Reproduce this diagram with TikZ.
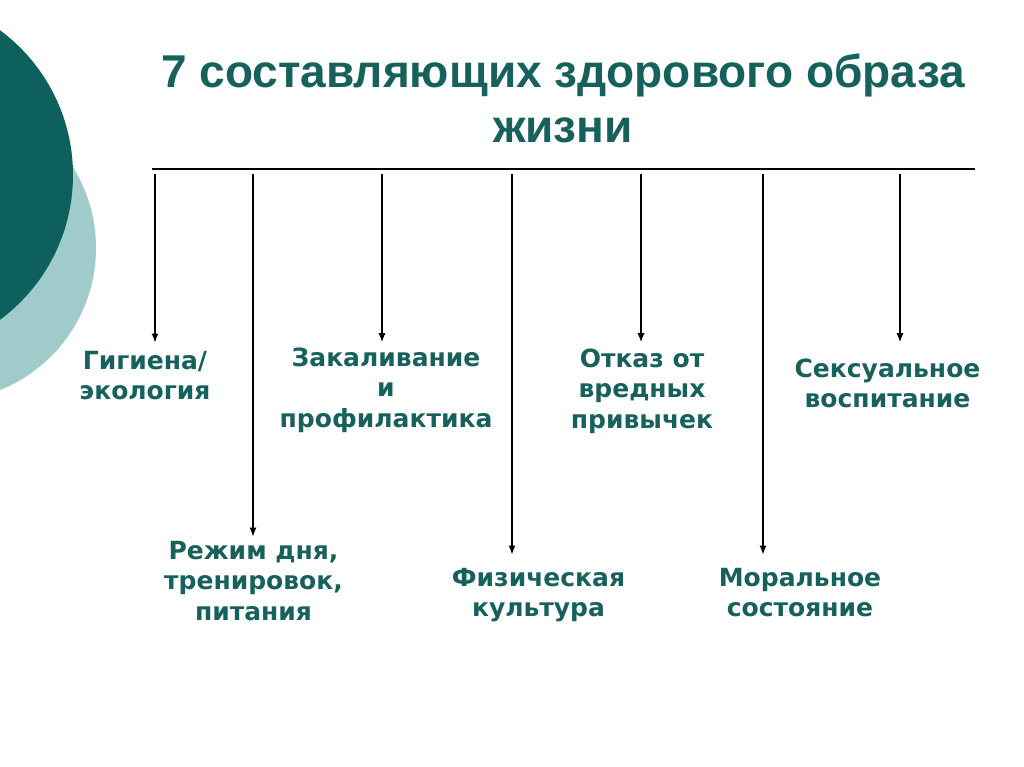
\documentclass[tikz,border=0pt]{standalone}
\usepackage{fontspec}
\setmainfont{Liberation Sans}
\newfontfamily\lblfont{DejaVu Sans}
\usetikzlibrary{arrows, arrows.meta, positioning, calc}
\definecolor{hls_dark}{HTML}{0E605C}
\definecolor{hls_light}{HTML}{9FCCCB}
\definecolor{hls_text}{HTML}{17615D}
\tikzset{
  heading/.style={text=hls_text,font=\bfseries\fontsize{46}{55}\selectfont,align=center,inner sep=0,anchor=base},
  comp/.style={text=hls_text,font=\lblfont\bfseries\fontsize{25}{30.5}\selectfont,align=center,inner sep=0,anchor=base},
  relation/.style={line width=1.3pt,-{Latex[length=9pt,width=7pt]},black},
  bar/.style={line width=1.3pt,black},
}

\begin{document}
\begin{tikzpicture}[x=1pt,y=-1pt]
	    \useasboundingbox (0,0) rectangle (1024,767);
	    % circles at the left edge
	    \begin{scope}
	        \clip (0,0) rectangle (1024,767);
	        \fill[hls_light] (-57,248) circle (153);
	        \fill[hls_dark] (-107,175) circle (180);
	    \end{scope}
	    % base of a node = baseline of its last line
	    \node[heading] (title) at (563,143) {7 составляющих здорового образа\\жизни};
	    \coordinate (barl) at (152,169);
	    \coordinate (barr) at (975,169);
	    \draw[bar] (barl) -- (barr);
	    \coordinate (t1) at (155,174);
	    \coordinate (t2) at (253,174);
	    \coordinate (t3) at (382,174);
	    \coordinate (t4) at (512,174);
	    \coordinate (t5) at (641,174);
	    \coordinate (t6) at (763,174);
	    \coordinate (t7) at (900,174);
	    \node[comp] (hyg) at (145,399.5) {Гигиена/\\экология};
	    \node[comp] (rez) at (253.5,620) {Режим дня,\\тренировок,\\питания};
	    \node[comp] (zak) at (386,427) {Закаливание\\и\\профилактика};
	    \node[comp] (fiz) at (538.5,616.5) {Физическая\\культура};
	    \node[comp] (otk) at (642,428) {Отказ от\\вредных\\привычек};
	    \node[comp] (mor) at (800,616.5) {Моральное\\состояние};
	    \node[comp] (sex) at (887.5,407.5) {Сексуальное\\воспитание};
	    \draw[relation,shorten >=8pt] (t1) -- (t1 |- hyg.north);
	    \draw[relation,shorten >=4pt] (t2) -- (t2 |- rez.north);
	    \draw[relation,shorten >=5pt] (t3) -- (t3 |- zak.north);
	    \draw[relation,shorten >=13pt] (t4) -- (t4 |- fiz.north);
	    \draw[relation,shorten >=6pt] (t5) -- (t5 |- otk.north);
	    \draw[relation,shorten >=13pt] (t6) -- (t6 |- mor.north);
	    \draw[relation,shorten >=16pt] (t7) -- (t7 |- sex.north);
	\end{tikzpicture}
\end{document}
